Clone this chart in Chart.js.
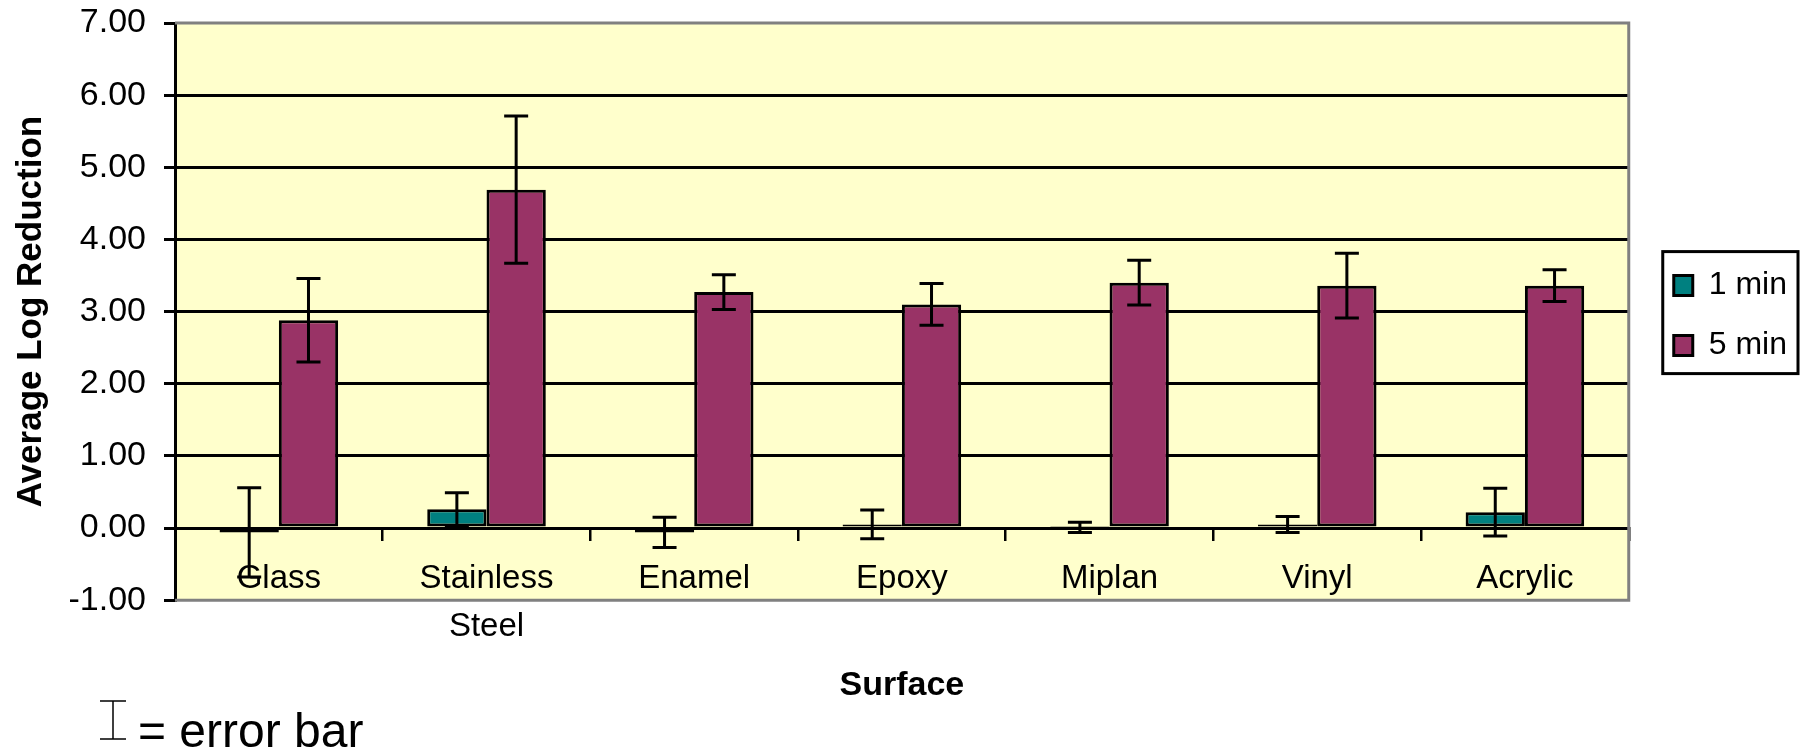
<!DOCTYPE html>
<html>
<head>
<meta charset="utf-8">
<title>Average Log Reduction by Surface</title>
<script src="https://cdn.jsdelivr.net/npm/chart.js@4.4.1/dist/chart.umd.min.js"></script>
<style>
  html, body { margin: 0; padding: 0; background: #ffffff; }
  #chart { display: block; }
</style>
</head>
<body>
<canvas id="chart" width="1805" height="748"></canvas>
<script>
// Surfaces tested (second line of a label goes under the first)
const surfaces = ['Glass', ['Stainless', 'Steel'], 'Enamel', 'Epoxy', 'Miplan', 'Vinyl', 'Acrylic'];

// Average log reduction
const oneMin = [-0.06, 0.26, -0.06, 0.05, 0.01, 0.05, 0.22];
const fiveMin = [2.88, 4.69, 3.27, 3.10, 3.40, 3.36, 3.36];

// Half-length of each error bar
const oneMinErr = [0.62, 0.23, 0.21, 0.20, 0.07, 0.11, 0.33];
const fiveMinErr = [0.58, 1.02, 0.24, 0.29, 0.31, 0.45, 0.22];

// Value axis
const yMin = -1;
const yMax = 7;
const yStep = 1;

const FONT = '"Liberation Sans", Arial, sans-serif';
Chart.defaults.font.family = FONT;
Chart.defaults.color = '#000';

// Pale yellow plot area with a grey frame (left side is the black value axis)
const plotFrame = {
  id: 'plotFrame',
  beforeDraw(chart) {
    const { ctx, chartArea: a } = chart;
    ctx.save();
    ctx.fillStyle = '#ffffcc';
    ctx.fillRect(a.left, a.top, a.right - a.left, a.bottom - a.top);
    ctx.restore();
  },
  beforeDatasetsDraw(chart) {
    const { ctx, chartArea: a } = chart;
    ctx.save();
    ctx.strokeStyle = '#808080';
    ctx.lineWidth = 3;
    ctx.beginPath();
    ctx.moveTo(a.left, a.top);
    ctx.lineTo(a.right, a.top);
    ctx.lineTo(a.right, a.bottom);
    ctx.lineTo(a.left, a.bottom);
    ctx.stroke();
    ctx.restore();
  }
};

// Error bars, drawn from each dataset's `errors` through the y scale
const errorBars = {
  id: 'errorBars',
  afterDatasetsDraw(chart) {
    const { ctx } = chart;
    const y = chart.scales.y;
    const cap = 12;
    ctx.save();
    ctx.strokeStyle = '#000';
    ctx.lineWidth = 3;
    chart.data.datasets.forEach((ds, i) => {
      const meta = chart.getDatasetMeta(i);
      meta.data.forEach((bar, j) => {
        const v = ds.data[j];
        const e = ds.errors[j];
        const top = y.getPixelForValue(v + e);
        const bot = y.getPixelForValue(v - e);
        ctx.beginPath();
        ctx.moveTo(bar.x, top);
        ctx.lineTo(bar.x, bot);
        ctx.moveTo(bar.x - cap, top);
        ctx.lineTo(bar.x + cap, top);
        ctx.moveTo(bar.x - cap, bot);
        ctx.lineTo(bar.x + cap, bot);
        ctx.stroke();
      });
    });
    ctx.restore();
  }
};

// Nudge the legend away from the plot and put a box round it
const legendFrame = {
  id: 'legendFrame',
  afterLayout(chart) {
    const lg = chart.legend;
    lg.left += 17;
    lg.right += 17;
    lg.top += 4;
    lg.bottom += 4;
  },
  afterDraw(chart) {
    const boxes = chart.legend.legendHitBoxes;
    if (!boxes.length) return;
    const left = Math.min(...boxes.map(b => b.left)) - 11;
    const right = Math.max(...boxes.map(b => b.left + b.width)) + 11;
    const top = boxes[0].top - 18;
    const last = boxes[boxes.length - 1];
    const bottom = last.top + last.height + 12;
    const { ctx } = chart;
    ctx.save();
    ctx.strokeStyle = '#000';
    ctx.lineWidth = 3;
    ctx.strokeRect(left, top, right - left, bottom - top);
    ctx.restore();
  }
};

// "I = error bar" key in the bottom left corner
const errorKey = {
  id: 'errorKey',
  afterDraw(chart) {
    const { ctx } = chart;
    ctx.save();
    ctx.strokeStyle = '#000';
    ctx.lineWidth = 1.5;
    ctx.beginPath();
    ctx.moveTo(100, 701); ctx.lineTo(126, 701);
    ctx.moveTo(113, 701); ctx.lineTo(113, 739);
    ctx.moveTo(100, 739); ctx.lineTo(126, 739);
    ctx.stroke();
    ctx.fillStyle = '#000';
    ctx.font = '48px ' + FONT;
    ctx.textBaseline = 'alphabetic';
    ctx.fillText('= error bar', 138, 747);
    ctx.restore();
  }
};

new Chart(document.getElementById('chart'), {
  type: 'bar',
  data: {
    labels: surfaces,
    datasets: [
      {
        label: '1 min',
        data: oneMin,
        errors: oneMinErr,
        backgroundColor: '#008080',
        borderColor: '#000',
        borderWidth: 3,
        borderSkipped: false
      },
      {
        label: '5 min',
        data: fiveMin,
        errors: fiveMinErr,
        backgroundColor: '#993366',
        borderColor: '#000',
        borderWidth: 3,
        borderSkipped: false
      }
    ]
  },
  options: {
    responsive: false,
    animation: false,
    devicePixelRatio: 1,
    datasets: {
      bar: { categoryPercentage: 0.571, barPercentage: 1 }
    },
    layout: {
      padding: { top: 23, left: 0, right: 25, bottom: 0 }
    },
    scales: {
      x: {
        position: { y: 0 },
        grid: {
          display: true,
          drawOnChartArea: false,
          drawTicks: true,
          tickLength: 11,
          color: '#000',
          lineWidth: 2.5
        },
        border: { display: true, color: '#000', width: 3 },
        ticks: {
          autoSkip: false,
          maxRotation: 0,
          padding: 16,
          color: '#000',
          font: { size: 33, lineHeight: 1.455 }
        }
      },
      y: {
        min: yMin,
        max: yMax,
        afterFit(scale) {
          scale.width = 175;
          scale.paddingTop = 20;
          scale.paddingBottom = 20;
        },
        ticks: {
          stepSize: yStep,
          padding: 18,
          color: '#000',
          font: { size: 34 },
          callback: v => v.toFixed(2)
        },
        grid: {
          color: c => (c.tick && (c.tick.value === yMin || c.tick.value === yMax)) ? 'rgba(0,0,0,0)' : '#000',
          tickColor: '#000',
          lineWidth: 3,
          tickLength: 11
        },
        border: { display: true, color: '#000', width: 3 },
        title: {
          display: true,
          text: 'Average Log Reduction',
          color: '#000',
          font: { size: 35, weight: 'bold' },
          padding: { top: 10, bottom: 0 }
        }
      }
    },
    plugins: {
      legend: {
        position: 'right',
        fullSize: false,
        labels: {
          boxWidth: 19,
          boxHeight: 20,
          padding: 28,
          color: '#000',
          font: { size: 32 }
        }
      },
      title: {
        display: true,
        position: 'bottom',
        fullSize: false,
        text: 'Surface',
        color: '#000',
        font: { size: 34, weight: 'bold' },
        padding: { top: 65, bottom: 42 }
      },
      tooltip: { enabled: false }
    }
  },
  plugins: [plotFrame, errorBars, legendFrame, errorKey]
});
</script>
</body>
</html>
